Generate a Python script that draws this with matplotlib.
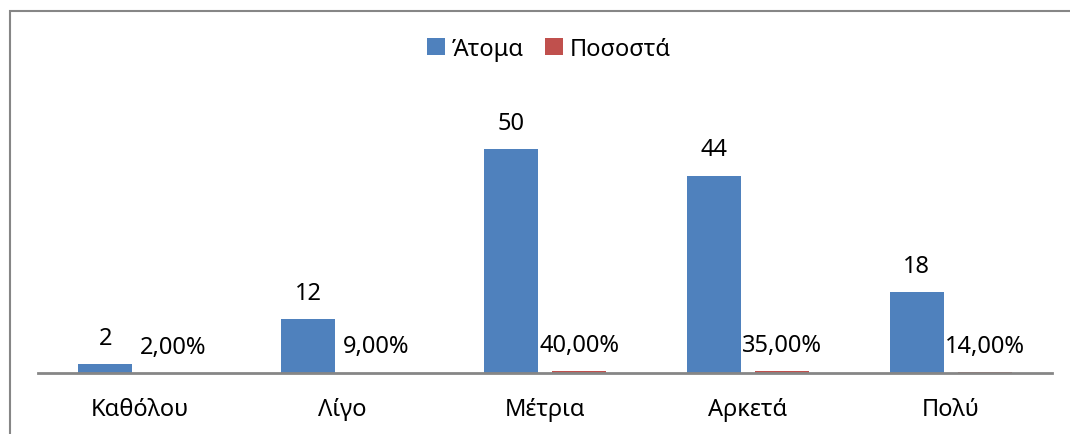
import matplotlib
matplotlib.use("Agg")
import matplotlib.pyplot as plt
from matplotlib.patches import Rectangle
import numpy as np

plt.rcParams['font.family'] = ['Noto Sans', 'DejaVu Sans']

categories = ["Καθόλου", "Λίγο", "Μέτρια", "Αρκετά", "Πολύ"]
atoma = [2, 12, 50, 44, 18]
pososta = [0.02, 0.09, 0.40, 0.35, 0.14]
pososta_labels = ["2,00%", "9,00%", "40,00%", "35,00%", "14,00%"]
series_names = ["Άτομα", "Ποσοστά"]

blue = "#4F81BD"
red = "#C0504D"

W, H = 1070, 435
fig = plt.figure(figsize=(W / 100, H / 100), dpi=100)

ax_left = 38 / W
ax_right = 1052 / W
ax_bottom = 1 - 374 / H
ppu = 4.48  # pixels per unit
ymax = 60
ax_height = ymax * ppu / H
ax = fig.add_axes([ax_left, ax_bottom, ax_right - ax_left, ax_height])

x = np.arange(len(categories))
spacing = (1052 - 38) / 5
bw = 54 / spacing
off = 34 / spacing

b1 = ax.bar(x - off, atoma, width=bw, color=blue, label=series_names[0], zorder=2)
b2 = ax.bar(x + off, pososta, width=bw, color=red, label=series_names[1], zorder=2)

fs = 17

ax.set_xlim(-0.5, 4.5)
ax.set_ylim(0, ymax)
for s in ["top", "right", "left"]:
    ax.spines[s].set_visible(False)
ax.spines["bottom"].set_color("#868686")
ax.spines["bottom"].set_linewidth(2)
ax.set_yticks([])
ax.set_xticks(x)
ax.set_xticklabels(categories, fontsize=fs)
ax.tick_params(axis='x', length=0, pad=17)

for xi, v in zip(x - off, atoma):
    ax.annotate(str(v), (xi, v), xytext=(0, 19), textcoords="offset points",
                ha="center", va="center", fontsize=fs)
for xi, v, lab in zip(x + off, pososta, pososta_labels):
    ax.annotate(lab, (xi, v), xytext=(0, 19), textcoords="offset points",
                ha="center", va="center", fontsize=fs)

fig.legend(handles=[b1, b2], labels=series_names, loc="center",
           bbox_to_anchor=(549 / W, 1 - 50 / H), ncol=2, frameon=False,
           fontsize=fs, handlelength=0.75, handleheight=0.75,
           handletextpad=0.3, columnspacing=0.9)

frame = Rectangle((9.5 / W, -0.05), 1.2, 1 - 11.5 / H + 0.05, transform=fig.transFigure,
                  fill=False, edgecolor="#868686", linewidth=1.5, clip_on=False)
fig.patches.append(frame)

fig.savefig("out.png", dpi=100)
